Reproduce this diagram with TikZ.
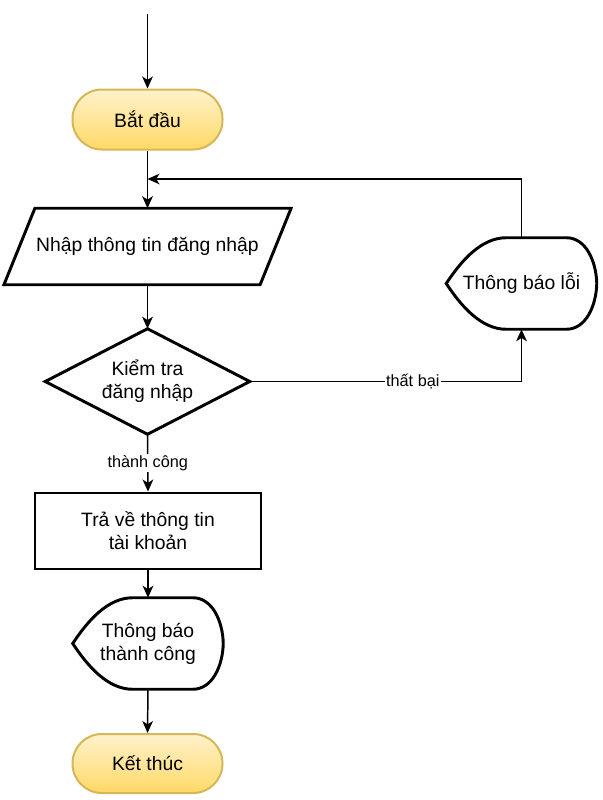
\documentclass[tikz,border=0pt]{standalone}
\usepackage{fontspec}
\setmainfont{Liberation Sans}
\usetikzlibrary{arrows.meta,calc}
\definecolor{tfTop}{HTML}{FFF2CC}
\definecolor{tfBot}{HTML}{FFD966}
\definecolor{tfLine}{HTML}{D6B656}
\tikzset{
  mainfont/.style={font=\fontsize{14.5pt}{17.3pt}\selectfont, text=black, align=center},
  terminal/.style={mainfont, draw=tfLine, line width=1.5pt, top color=tfTop, bottom color=tfBot,
    rounded corners=22pt, minimum width=112.5pt, minimum height=45pt, inner sep=0pt},
  boxnode/.style={mainfont, draw, line width=2.2pt, minimum width=169.5pt, minimum height=57pt, inner sep=0pt},
  ghost/.style={mainfont, inner sep=0pt},
  shapeline/.style={draw=black, line width=2.2pt, line join=miter},
  arr/.style={draw=black, line width=1.1pt, -{Stealth[length=9pt,width=8pt,inset=2.5pt]}},
  conn/.style={draw=black, line width=1.1pt},
  lbl/.style={font=\fontsize{12.2pt}{14pt}\selectfont, text=black, fill=white, inner sep=1pt}
}
\newcommand\dispoutline[1]{%
  \draw[shapeline] (#1.west)
    .. controls ($(#1.north west)+(15,23)$) and ($(#1.north west)+(35,0)$) .. ($(#1.north west)+(60,0)$)
    -- ($(#1.north west)+(120,0)$)
    .. controls ($(#1.north west)+(140,0)$) and ($(#1.north west)+(150,24)$) .. (#1.east)
    .. controls ($(#1.south west)+(150,-24)$) and ($(#1.south west)+(140,0)$) .. ($(#1.south west)+(120,0)$)
    -- ($(#1.south west)+(60,0)$)
    .. controls ($(#1.south west)+(35,0)$) and ($(#1.south west)+(15,-23)$) .. (#1.west) -- cycle;}
\begin{document}
\begin{tikzpicture}[x=0.75pt,y=-0.75pt]
\useasboundingbox (0,0) rectangle (603,800);
% nodes
\coordinate (top) at (147.5,14);
\node[terminal] (start) at (147.5,119.5) {Bắt đầu};
\node[ghost, minimum width=215pt, minimum height=57pt] (input) at (147.5,246.5) {Nhập thông tin đăng nhập};
\draw[shapeline] ($(input.north west)+(31,0)$) -- (input.north east) -- ($(input.south east)+(-31,0)$) -- (input.south west) -- cycle;
\node[ghost, minimum width=153pt, minimum height=78.75pt] (dec) at (147.5,381.5) {Kiểm tra\\đăng nhập};
\draw[shapeline] (dec.north) -- (dec.east) -- (dec.south) -- (dec.west) -- cycle;
\node[boxnode] (ret) at (148,531) {Trả về thông tin\\tài khoản};
\node[ghost, minimum width=112.5pt, minimum height=68.25pt] (ok) at (148,643.5) {Thông báo\\thành công};
\dispoutline{ok}
\node[ghost, minimum width=112.5pt, minimum height=68.25pt] (err) at (521.5,283.5) {Thông báo lỗi};
\dispoutline{err}
\node[terminal, minimum height=44.25pt] (end) at (147.5,763.5) {Kết thúc};
\coordinate (merge) at (147.5,179);
% connectors
\draw[arr] (top) -- (start.north);
\draw[arr] (start.south) -- (input.north);
\draw[arr] (err.north) |- (merge);
\draw[arr] (input.south) -- (dec.north);
\draw[arr] (dec.east) -| node[lbl, pos=0.3] {thất bại} (err.south);
\draw[arr] (dec.south) -- node[lbl, pos=0.5] {thành công} (ret.north);
\draw[arr] (ret.south) -- (ok.north);
\draw[arr] (ok.south) -- (end.north);
\end{tikzpicture}
\end{document}
